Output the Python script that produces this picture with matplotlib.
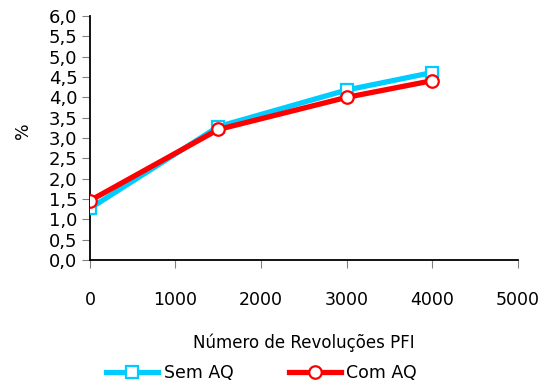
import numpy as np
import matplotlib.pyplot as plt
from matplotlib.ticker import FuncFormatter, MultipleLocator

# revolucoes PFI
revolucoes = [0, 1500, 3000, 4000]
sem_aq = [1.27, 3.28, 4.18, 4.61]
com_aq = [1.46, 3.21, 4.00, 4.41]

plt.rcParams['font.family'] = ['DejaVu Sans']

fig = plt.figure(figsize=(5.45, 3.91), dpi=100)
ax = fig.add_axes([0.165, 0.335, 0.785, 0.624])

ax.plot(revolucoes, sem_aq, color='#00ccff', lw=3.8, marker='s', ms=9,
        mfc='white', mec='#00ccff', mew=1.6, label='Sem AQ', zorder=3)
ax.plot(revolucoes, com_aq, color='#ff0000', lw=3.8, marker='o', ms=9,
        mfc='white', mec='#ff0000', mew=1.6, label='Com AQ', zorder=4)

ax.set_xlim(0, 5000)
ax.set_ylim(0, 6)
ax.xaxis.set_major_locator(MultipleLocator(1000))
ax.yaxis.set_major_locator(MultipleLocator(0.5))
ax.yaxis.set_major_formatter(FuncFormatter(lambda v, p: f'{v:.1f}'.replace('.', ',')))

for s in ['top', 'right']:
    ax.spines[s].set_visible(False)
for s in ['left', 'bottom']:
    ax.spines[s].set_linewidth(1.3)

ax.tick_params(axis='y', direction='out', length=6, color='#808080',
               labelsize=13, pad=3)
ax.tick_params(axis='x', direction='out', length=6, color='#808080',
               labelsize=12.5, pad=16)
ax.set_xlabel('Número de Revoluções PFI', fontsize=12, labelpad=18)
ax.set_ylabel('%', fontsize=12.5, labelpad=4)
ax.yaxis.set_label_coords(-0.135, 0.53)

fig.legend(loc='center', bbox_to_anchor=(0.48, 0.045), ncol=2, frameon=False,
           fontsize=12.5, handlelength=3.0, columnspacing=3.2, handletextpad=0.3,
           numpoints=1)

fig.savefig('out.png', dpi=100)
